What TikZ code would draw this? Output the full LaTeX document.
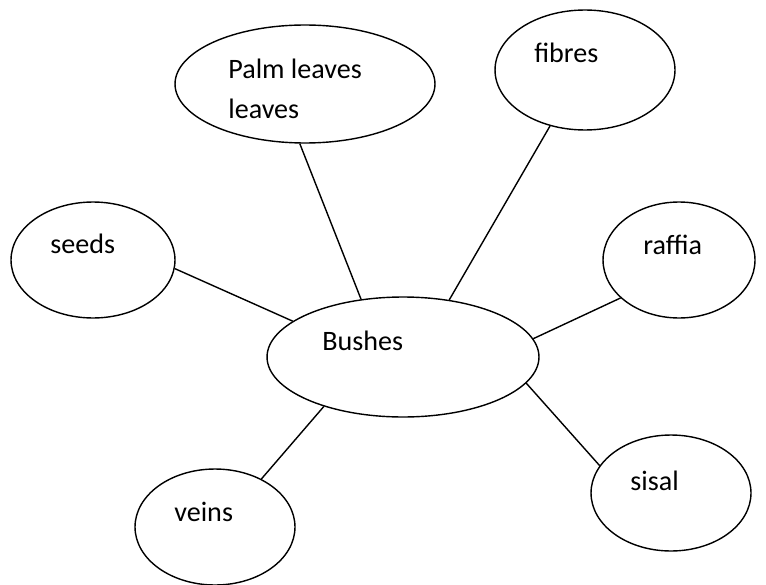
\documentclass[tikz,border=0pt]{standalone}
\usepackage{fontspec}
\setmainfont{Carlito}
\usepackage{tikz}
\usetikzlibrary{shapes.geometric}

\begin{document}
\begin{tikzpicture}[
    x=0.02cm, y=-0.02cm,
    bubble/.style={ellipse, draw, line width=0.8pt, inner sep=0pt},
    word/.style={anchor=base west, inner sep=0pt, font=\fontsize{16}{23.3}\selectfont, align=left},
    link/.style={line width=0.8pt}
]
    \useasboundingbox (0,0) rectangle (766,584);

    % Centre
    \node[bubble, minimum width=5.44cm, minimum height=2.4cm] (bushes) at (403,357) {};
    \node[word] (bushestext) at (322,350) {Bushes};

    % Outer bubbles
    \node[bubble, minimum width=5.2cm, minimum height=2.36cm] (palm) at (305,84) {};
    \node[word] (palmtext) at (228,119) {Palm leaves\\leaves};

    \node[bubble, minimum width=3.6cm, minimum height=2.4cm] (fibres) at (585,70) {};
    \node[word] (fibrestext) at (534,63) {fibres};

    \node[bubble, minimum width=3.28cm, minimum height=2.32cm] (seeds) at (93,260) {};
    \node[word] (seedstext) at (50,253) {seeds};

    \node[bubble, minimum width=3.04cm, minimum height=2.32cm] (raffia) at (679,260) {};
    \node[word] (raffiatext) at (643,254) {raffia};

    \node[bubble, minimum width=3.2cm, minimum height=2.32cm] (sisal) at (671,493) {};
    \node[word] (sisaltext) at (630,490) {sisal};

    \node[bubble, minimum width=3.2cm, minimum height=2.32cm] (veins) at (215,527) {};
    \node[word] (veinstext) at (174,521) {veins};

    % Links
    \draw[link] (palm.-95) -- (bushes.126);
    \draw[link] (fibres.-122) -- (bushes.51);
    \draw[link] (seeds.-6) -- (bushes.162);
    \draw[link] (raffia.213) -- (bushes.8);
    \draw[link] (sisal.159) -- (bushes.-12);
    \draw[link] (veins.46) -- (bushes.212);

\end{tikzpicture}
\end{document}
